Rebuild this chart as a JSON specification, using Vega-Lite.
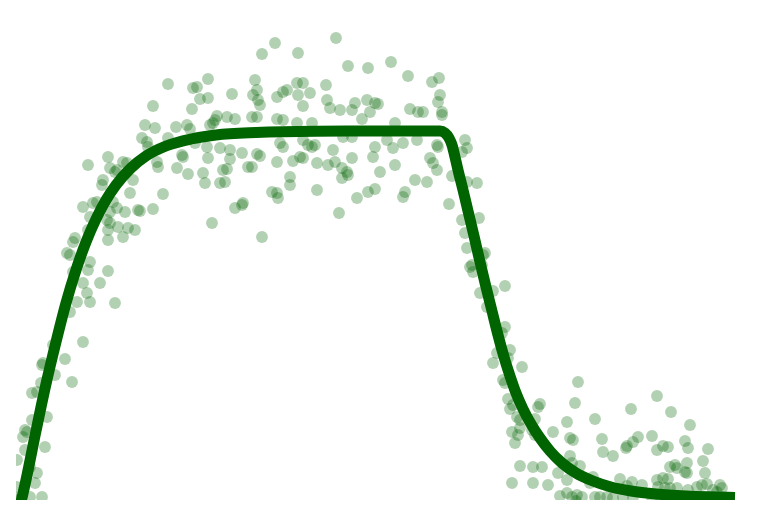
{
  "$schema": "https://vega.github.io/schema/vega-lite/v6.json",
  "width": 720,
  "height": 470,
  "autosize": {"type": "none"},
  "padding": {"left": 16, "top": 30, "right": 44, "bottom": 18},
  "background": "white",
  "config": {"view": {"stroke": null}},
  "datasets": {
    "pts": [
      {"x":67,"y":158},{"x":49,"y":141},{"x":26,"y":135},{"x":27,"y":137},{"x":56,"y":118},{"x":25,"y":117},{"x":16,"y":107},{"x":21,"y":108},{"x":37,"y":155},{"x":39,"y":125},{"x":16,"y":80},{"x":31,"y":83},{"x":9,"y":70},{"x":11,"y":68},{"x":7,"y":63},{"x":29,"y":53},{"x":9,"y":50},{"x":1,"y":40},{"x":21,"y":27},{"x":19,"y":17},{"x":14,"y":33},{"x":1,"y":13},{"x":14,"y":3},{"x":26,"y":3},{"x":-3,"y":3},{"x":2,"y":0},
      {"x":92,"y":343},{"x":72,"y":335},{"x":107,"y":338},{"x":111,"y":337},{"x":94,"y":332},{"x":99,"y":328},{"x":101,"y":330},{"x":87,"y":320},{"x":86,"y":315},{"x":117,"y":320},{"x":114,"y":307},{"x":77,"y":297},{"x":81,"y":298},{"x":67,"y":293},{"x":97,"y":298},{"x":101,"y":292},{"x":94,"y":288},{"x":109,"y":288},{"x":74,"y":283},{"x":122,"y":290},{"x":91,"y":280},{"x":94,"y":277},{"x":102,"y":273},{"x":112,"y":272},{"x":119,"y":270},{"x":72,"y":270},{"x":92,"y":270},{"x":107,"y":263},{"x":92,"y":260},{"x":59,"y":262},{"x":57,"y":258},{"x":51,"y":247},{"x":54,"y":245},{"x":74,"y":238},{"x":72,"y":230},{"x":92,"y":229},{"x":57,"y":228},{"x":84,"y":217},{"x":67,"y":217},{"x":71,"y":207},{"x":61,"y":198},{"x":74,"y":198},{"x":99,"y":197},{"x":54,"y":188},
      {"x":259,"y":457},{"x":246,"y":446},{"x":152,"y":416},{"x":192,"y":421},{"x":177,"y":412},{"x":181,"y":413},{"x":184,"y":401},{"x":192,"y":402},{"x":239,"y":420},{"x":241,"y":410},{"x":237,"y":405},{"x":242,"y":400},{"x":244,"y":395},{"x":261,"y":403},{"x":216,"y":406},{"x":137,"y":394},{"x":176,"y":391},{"x":201,"y":384},{"x":199,"y":380},{"x":211,"y":383},{"x":219,"y":381},{"x":236,"y":383},{"x":241,"y":383},{"x":261,"y":381},{"x":129,"y":375},{"x":139,"y":372},{"x":160,"y":373},{"x":171,"y":375},{"x":174,"y":371},{"x":194,"y":375},{"x":197,"y":377},{"x":126,"y":362},{"x":131,"y":358},{"x":132,"y":353},{"x":152,"y":362},{"x":179,"y":357},{"x":191,"y":353},{"x":204,"y":352},{"x":214,"y":350},{"x":226,"y":347},{"x":166,"y":345},{"x":167,"y":343},{"x":192,"y":342},{"x":214,"y":341},{"x":241,"y":346},{"x":244,"y":344},{"x":232,"y":333},{"x":236,"y":333},{"x":261,"y":338},{"x":141,"y":338},{"x":142,"y":333},{"x":161,"y":332},{"x":172,"y":326},{"x":187,"y":327},{"x":189,"y":317},{"x":204,"y":317},{"x":209,"y":318},{"x":211,"y":331},{"x":207,"y":330},{"x":147,"y":306},{"x":256,"y":308},{"x":261,"y":307},{"x":262,"y":302},{"x":124,"y":289},{"x":137,"y":291},{"x":219,"y":292},{"x":227,"y":297},{"x":226,"y":295},{"x":196,"y":277},{"x":246,"y":263},
      {"x":320,"y":462},{"x":282,"y":447},{"x":332,"y":434},{"x":352,"y":432},{"x":375,"y":438},{"x":392,"y":424},{"x":416,"y":418},{"x":423,"y":422},{"x":281,"y":417},{"x":287,"y":417},{"x":310,"y":415},{"x":267,"y":408},{"x":271,"y":410},{"x":282,"y":405},{"x":294,"y":407},{"x":311,"y":400},{"x":314,"y":392},{"x":324,"y":390},{"x":287,"y":394},{"x":339,"y":397},{"x":336,"y":390},{"x":351,"y":400},{"x":359,"y":397},{"x":362,"y":396},{"x":354,"y":388},{"x":346,"y":381},{"x":394,"y":391},{"x":402,"y":388},{"x":407,"y":388},{"x":424,"y":405},{"x":422,"y":398},{"x":426,"y":388},{"x":426,"y":385},{"x":267,"y":380},{"x":281,"y":377},{"x":296,"y":377},{"x":379,"y":377},{"x":264,"y":357},{"x":267,"y":353},{"x":287,"y":360},{"x":292,"y":355},{"x":296,"y":353},{"x":299,"y":355},{"x":317,"y":350},{"x":327,"y":363},{"x":336,"y":363},{"x":359,"y":353},{"x":371,"y":360},{"x":377,"y":352},{"x":387,"y":357},{"x":401,"y":360},{"x":277,"y":339},{"x":284,"y":343},{"x":287,"y":342},{"x":301,"y":337},{"x":312,"y":335},{"x":319,"y":338},{"x":336,"y":342},{"x":357,"y":343},{"x":379,"y":335},{"x":326,"y":332},{"x":331,"y":328},{"x":332,"y":325},{"x":326,"y":322},{"x":414,"y":342},{"x":417,"y":337},{"x":421,"y":330},{"x":421,"y":355},{"x":422,"y":353},{"x":449,"y":360},{"x":451,"y":352},{"x":446,"y":348},{"x":274,"y":323},{"x":274,"y":315},{"x":301,"y":310},{"x":364,"y":328},{"x":399,"y":320},{"x":411,"y":318},{"x":352,"y":308},{"x":359,"y":311},{"x":341,"y":302},{"x":389,"y":308},{"x":387,"y":303},{"x":436,"y":324},{"x":461,"y":317},{"x":433,"y":296},{"x":323,"y":287},{"x":446,"y":280},{"x":449,"y":267},
      {"x":451,"y":318},{"x":463,"y":282},{"x":451,"y":252},{"x":469,"y":247},{"x":467,"y":245},{"x":456,"y":235},{"x":454,"y":233},{"x":457,"y":228},{"x":466,"y":235},{"x":489,"y":214},{"x":477,"y":209},{"x":464,"y":207},{"x":471,"y":193},{"x":489,"y":173},
      {"x":486,"y":167},{"x":481,"y":147},{"x":494,"y":150},{"x":492,"y":142},{"x":477,"y":137},{"x":506,"y":133},{"x":487,"y":120},{"x":489,"y":117},{"x":562,"y":118},{"x":559,"y":97},{"x":492,"y":101},{"x":494,"y":91},{"x":497,"y":95},{"x":524,"y":96},{"x":522,"y":93},{"x":501,"y":83},{"x":504,"y":80},{"x":519,"y":81},{"x":551,"y":78},{"x":579,"y":81},{"x":496,"y":68},{"x":502,"y":65},{"x":499,"y":57},{"x":504,"y":72},{"x":516,"y":70},{"x":519,"y":65},{"x":537,"y":68},{"x":554,"y":62},{"x":557,"y":60},{"x":586,"y":61},{"x":587,"y":48},{"x":504,"y":34},{"x":517,"y":33},{"x":526,"y":33},{"x":554,"y":44},{"x":556,"y":37},{"x":564,"y":34},{"x":542,"y":27},{"x":551,"y":20},{"x":496,"y":17},{"x":517,"y":17},{"x":532,"y":15},{"x":577,"y":23},{"x":574,"y":17},{"x":544,"y":4},{"x":551,"y":7},{"x":556,"y":3},{"x":561,"y":5},{"x":566,"y":3},{"x":579,"y":3},{"x":584,"y":3},{"x":591,"y":3},
      {"x":641,"y":104},{"x":615,"y":91},{"x":655,"y":88},{"x":674,"y":75},{"x":597,"y":44},{"x":611,"y":54},{"x":610,"y":52},{"x":617,"y":58},{"x":622,"y":63},{"x":636,"y":64},{"x":641,"y":50},{"x":647,"y":54},{"x":652,"y":53},{"x":669,"y":59},{"x":672,"y":52},{"x":692,"y":51},{"x":654,"y":33},{"x":659,"y":35},{"x":661,"y":32},{"x":671,"y":37},{"x":669,"y":28},{"x":671,"y":27},{"x":687,"y":39},{"x":689,"y":27},{"x":604,"y":21},{"x":616,"y":18},{"x":626,"y":15},{"x":611,"y":14},{"x":641,"y":20},{"x":647,"y":22},{"x":652,"y":21},{"x":642,"y":13},{"x":649,"y":12},{"x":654,"y":12},{"x":661,"y":12},{"x":672,"y":10},{"x":681,"y":13},{"x":686,"y":15},{"x":691,"y":16},{"x":697,"y":10},{"x":704,"y":15},{"x":706,"y":12},{"x":701,"y":8},{"x":597,"y":2},{"x":607,"y":3},{"x":617,"y":3},{"x":636,"y":-1},{"x":645,"y":0},{"x":696,"y":-1},{"x":704,"y":0},{"x":560,"y":-1}
    ],
    "fit": [
      {"x":2,"y":-15},{"x":10,"y":20},{"x":20,"y":69},{"x":30,"y":116},{"x":40,"y":158},{"x":50,"y":197},{"x":60,"y":230},{"x":70,"y":258},{"x":80,"y":281},{"x":90,"y":300},{"x":100,"y":315},{"x":115,"y":332},{"x":130,"y":344},{"x":150,"y":354},{"x":175,"y":361},{"x":200,"y":365},{"x":240,"y":367.5},{"x":300,"y":368.8},{"x":350,"y":369},{"x":424,"y":369},{"x":429,"y":367},{"x":433,"y":362},{"x":436,"y":355},{"x":439,"y":343},{"x":442,"y":330},{"x":447,"y":310},{"x":452,"y":289},{"x":458,"y":264},{"x":464,"y":238},{"x":470,"y":213},{"x":476,"y":189},{"x":482,"y":165},{"x":488,"y":143},{"x":494,"y":124},{"x":500,"y":107},{"x":507,"y":91},{"x":515,"y":76},{"x":524,"y":62},{"x":534,"y":49},{"x":546,"y":37},{"x":560,"y":27},{"x":577,"y":19},{"x":595,"y":13},{"x":615,"y":9},{"x":640,"y":6},{"x":670,"y":4},{"x":700,"y":3},{"x":719,"y":2.5}
    ]
  },
  "layer": [
    {
      "data": {"name": "pts"},
      "mark": {"type": "circle", "size": 140, "color": "#006400", "opacity": 0.3, "clip": true},
      "encoding": {
        "x": {"field": "x", "type": "quantitative", "scale": {"domain": [0, 720], "nice": false, "zero": false}, "axis": null},
        "y": {"field": "y", "type": "quantitative", "scale": {"domain": [0, 470], "nice": false, "zero": false}, "axis": null}
      }
    },
    {
      "data": {"name": "fit"},
      "mark": {"type": "line", "color": "#006400", "strokeWidth": 11, "interpolate": "monotone", "strokeCap": "butt", "strokeJoin": "round", "clip": true},
      "encoding": {
        "x": {"field": "x", "type": "quantitative", "scale": {"domain": [0, 720], "nice": false, "zero": false}, "axis": null},
        "y": {"field": "y", "type": "quantitative", "scale": {"domain": [0, 470], "nice": false, "zero": false}, "axis": null}
      }
    }
  ]
}
